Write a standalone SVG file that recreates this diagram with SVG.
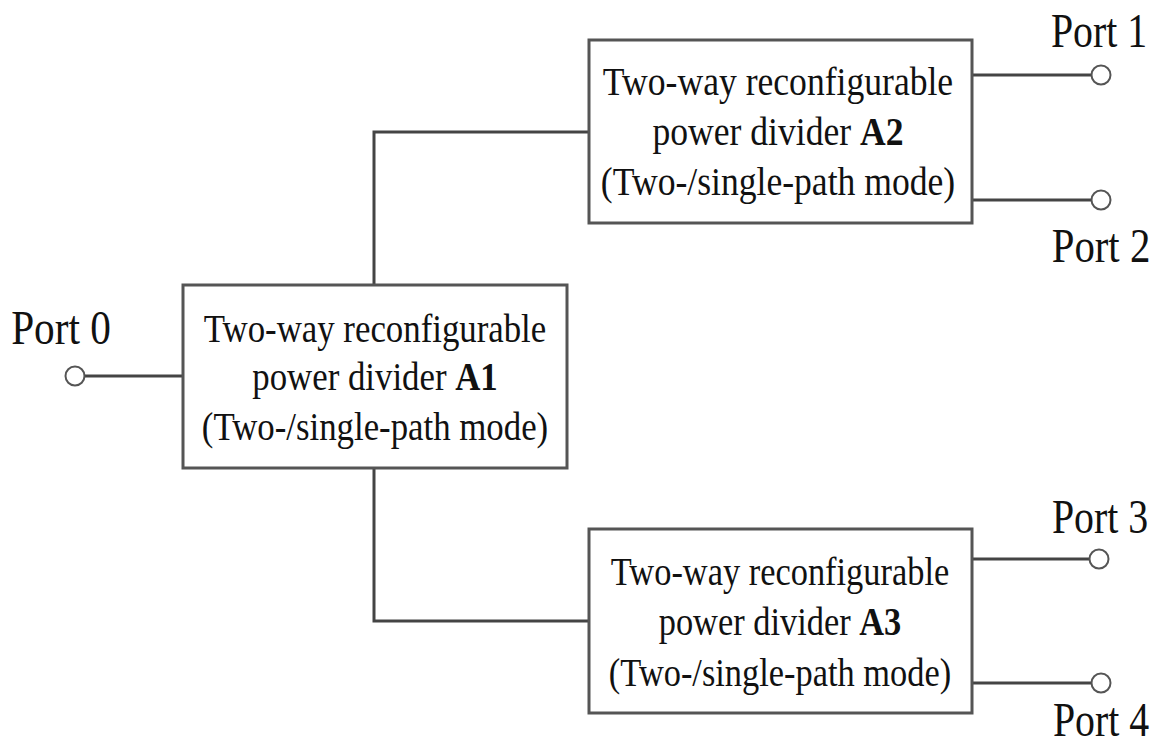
<svg xmlns="http://www.w3.org/2000/svg" width="1158" height="747" viewBox="0 0 1158 747">
<style>
.box{fill:#fff;stroke:#555;stroke-width:3}
.wire{fill:none;stroke:#444;stroke-width:3}
.port{fill:#fff;stroke:#555;stroke-width:2}
.t{font-size:40px;fill:#111;text-anchor:middle}
.p{font-size:48px;fill:#111;text-anchor:middle}
</style>
<rect width="1158" height="747" fill="#fff"/>
<g id="connectors">
<path class="wire" d="M374 284 V132 H589"/>
<path class="wire" d="M374 468 V621 H589"/>
<path class="wire" d="M85 376 H183"/>
<path class="wire" d="M972 75 H1092"/>
<path class="wire" d="M972 200 H1092"/>
<path class="wire" d="M972 559 H1090"/>
<path class="wire" d="M972 683 H1092"/>
</g>
<g font-family="Liberation Serif, Times New Roman, serif">
<g id="A1">
<rect class="box" x="183" y="285" width="384" height="183"/>
<g transform="translate(375,0) scale(0.87,1)">
<text class="t" x="0" y="342">Two-way reconfigurable</text>
<text class="t" x="0" y="390">power divider <tspan font-weight="bold">A1</tspan></text>
<text class="t" x="0" y="440">(Two-/single-path mode)</text>
</g>
</g>
<g id="A2">
<rect class="box" x="589" y="40" width="383" height="183"/>
<g transform="translate(778,0) scale(0.89,1)">
<text class="t" x="0" y="95">Two-way reconfigurable</text>
<text class="t" x="0" y="145">power divider <tspan font-weight="bold">A2</tspan></text>
<text class="t" x="0" y="195">(Two-/single-path mode)</text>
</g>
</g>
<g id="A3">
<rect class="box" x="589" y="529" width="383" height="184"/>
<g transform="translate(780,0) scale(0.86,1)">
<text class="t" x="0" y="585">Two-way reconfigurable</text>
<text class="t" x="0" y="635">power divider <tspan font-weight="bold">A3</tspan></text>
<text class="t" x="0" y="686">(Two-/single-path mode)</text>
</g>
</g>
<g id="port0">
<circle class="port" cx="75" cy="376" r="9.5"/>
<text class="p" transform="translate(61,344) scale(0.86,1)">Port 0</text>
</g>
<g id="port1">
<circle class="port" cx="1101" cy="75" r="9.5"/>
<text class="p" transform="translate(1099,47) scale(0.83,1)">Port 1</text>
</g>
<g id="port2">
<circle class="port" cx="1101" cy="200" r="9.5"/>
<text class="p" transform="translate(1101,262) scale(0.85,1)">Port 2</text>
</g>
<g id="port3">
<circle class="port" cx="1099" cy="559" r="9.5"/>
<text class="p" transform="translate(1100,533) scale(0.83,1)">Port 3</text>
</g>
<g id="port4">
<circle class="port" cx="1101" cy="683" r="9.5"/>
<text class="p" transform="translate(1101,736) scale(0.83,1)">Port 4</text>
</g>
</g>
</svg>
